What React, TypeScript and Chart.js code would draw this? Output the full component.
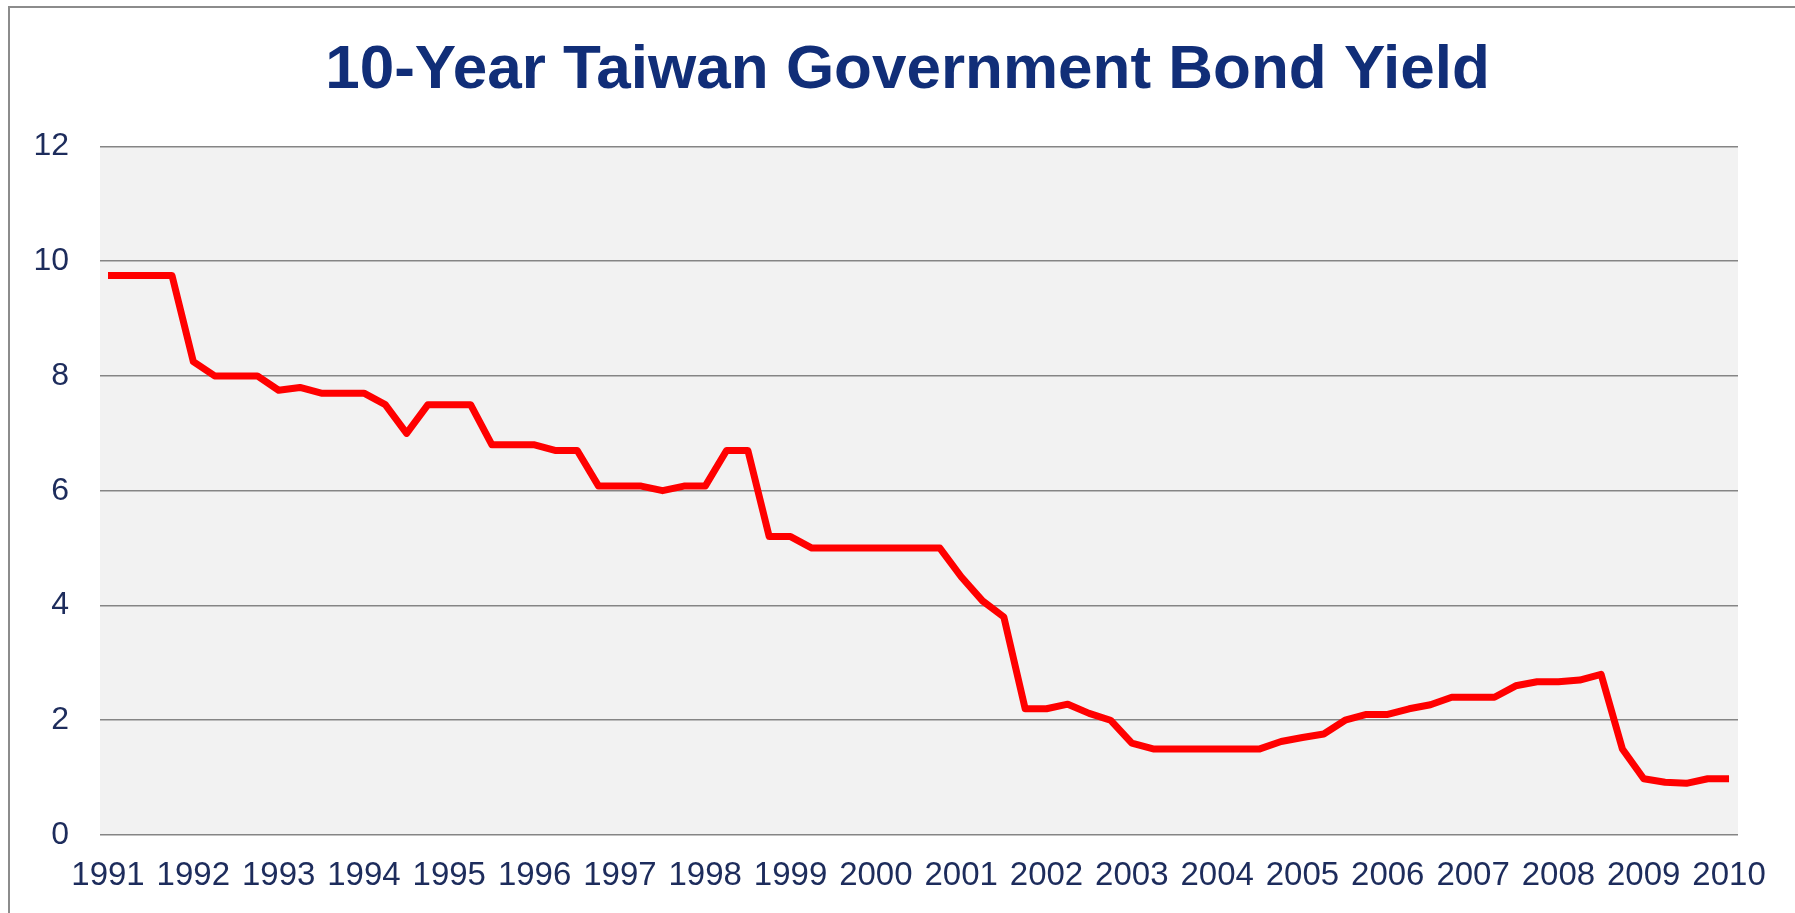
import React, { useEffect, useRef } from "react";
import { Chart, registerables } from "chart.js";

Chart.register(...registerables);

const TITLE = "10-Year Taiwan Government Bond Yield";

// Year labels shown on the x axis (one per first quarter)
const yearLabels = [
  "1991", "1992", "1993", "1994", "1995", "1996", "1997", "1998", "1999", "2000",
  "2001", "2002", "2003", "2004", "2005", "2006", "2007", "2008", "2009", "2010",
];

// Quarterly 10-year yields, 1991 Q1 .. 2010 Q1 (%)
const yield1991to1994 = [9.75, 9.75, 9.75, 9.75, 8.25, 8.0, 8.0, 8.0, 7.75, 7.8, 7.7, 7.7, 7.7, 7.5, 7.0, 7.5];
const yield1995to1998 = [7.5, 7.5, 6.8, 6.8, 6.8, 6.7, 6.7, 6.08, 6.08, 6.08, 6.0, 6.08, 6.08, 6.7, 6.7, 5.2];
const yield1999to2002 = [5.2, 5.0, 5.0, 5.0, 5.0, 5.0, 5.0, 5.0, 4.5, 4.08, 3.8, 2.2, 2.2, 2.28, 2.12, 2.0];
const yield2003to2006 = [1.6, 1.5, 1.5, 1.5, 1.5, 1.5, 1.5, 1.63, 1.7, 1.76, 2.0, 2.1, 2.1, 2.2, 2.27, 2.4];
const yield2007to2010 = [2.4, 2.4, 2.6, 2.67, 2.67, 2.7, 2.8, 1.5, 0.98, 0.92, 0.9, 0.98, 0.98];

const yields = [
  ...yield1991to1994,
  ...yield1995to1998,
  ...yield1999to2002,
  ...yield2003to2006,
  ...yield2007to2010,
];

const Y_TICKS = [0, 2, 4, 6, 8, 10, 12];
const QUARTERS_PER_YEAR = 4;

const FONT = "'Liberation Sans', Arial, sans-serif";
const LABEL_COLOR = "#1D2C5C";

const plotBackground = {
  id: "plotBackground",
  beforeDraw(chart: any) {
    const { ctx, chartArea } = chart;
    ctx.save();
    ctx.fillStyle = "#F2F2F2";
    ctx.fillRect(chartArea.left, chartArea.top, chartArea.right - chartArea.left, chartArea.bottom - chartArea.top);
    ctx.restore();
  },
};

export default function App() {
  const canvasRef = useRef<HTMLCanvasElement | null>(null);

  useEffect(() => {
    const canvas = canvasRef.current;
    if (!canvas) return;
    const chart = new Chart(canvas, {
      type: "line",
      data: {
        datasets: [
          {
            label: "10-Year Yield",
            data: yields.map((v, i) => ({ x: i, y: v })),
            borderColor: "#FF0000",
            backgroundColor: "#FF0000",
            borderWidth: 7,
            borderJoinStyle: "round",
            pointRadius: 0,
            tension: 0,
            fill: false,
          },
        ],
      },
      options: {
        animation: false,
        responsive: false,
        devicePixelRatio: 1,
        layout: { padding: { left: 20, right: 0, top: 0, bottom: 0 } },
        plugins: {
          legend: { display: false },
          tooltip: { enabled: false },
          title: {
            display: true,
            text: TITLE,
            color: "#112E78",
            font: { family: FONT, size: 62, weight: "bold" },
            padding: { top: 34, bottom: 38 },
          },
        },
        scales: {
          x: {
            type: "linear",
            min: -0.375,
            max: yields.length - 1 + 0.42,
            grid: { display: false, drawTicks: false },
            border: { display: false },
            afterBuildTicks: (axis: any) => {
              axis.ticks = yearLabels.map((_, k) => ({ value: k * QUARTERS_PER_YEAR }));
            },
            afterFit: (axis: any) => {
              axis.height = 78;
              axis.paddingRight = 57;
            },
            ticks: {
              autoSkip: false,
              maxRotation: 0,
              minRotation: 0,
              padding: 21,
              color: LABEL_COLOR,
              font: { family: FONT, size: 33 },
              callback: (value: any) => yearLabels[Math.round(Number(value) / QUARTERS_PER_YEAR)] ?? "",
            },
          },
          y: {
            type: "linear",
            min: Y_TICKS[0],
            max: Y_TICKS[Y_TICKS.length - 1],
            afterBuildTicks: (axis: any) => {
              axis.ticks = Y_TICKS.map((v) => ({ value: v }));
            },
            afterFit: (axis: any) => {
              axis.width = 80;
            },
            grid: { color: "#858585", lineWidth: 1.6, drawTicks: false },
            border: { display: false },
            ticks: {
              padding: 31,
              color: LABEL_COLOR,
              font: { family: FONT, size: 32 },
            },
          },
        },
      },
      plugins: [plotBackground],
    });
    return () => chart.destroy();
  }, []);

  return (
    <div
      style={{
        position: "fixed",
        left: 0,
        top: 0,
        width: 1795,
        height: 913,
        background: "#FFFFFF",
        overflow: "hidden",
      }}
    >
      <div
        style={{
          position: "absolute",
          left: 8,
          top: 6,
          width: 2000,
          height: 1000,
          borderLeft: "2px solid #8C8C8C",
          borderTop: "2px solid #8C8C8C",
        }}
      />
      <canvas
        ref={canvasRef}
        width={1795}
        height={913}
        style={{ position: "absolute", left: 0, top: 0, width: 1795, height: 913 }}
      />
    </div>
  );
}
